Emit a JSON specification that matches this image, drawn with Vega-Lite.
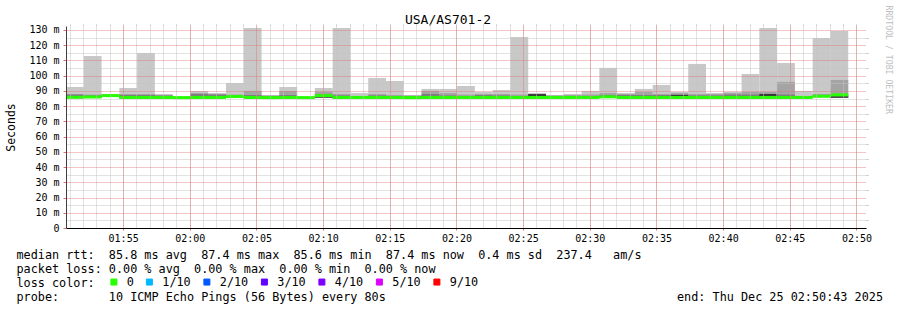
{
  "$schema": "https://vega.github.io/schema/vega-lite/v6.json",
  "width": 800,
  "height": 202,
  "autosize": {"type": "none"},
  "padding": {"left": 66, "top": 26, "right": 31, "bottom": 82},
  "background": "white",
  "title": {"text": "USA/AS701-2", "font": "DejaVu Sans Mono", "fontSize": 13, "fontWeight": "normal", "color": "#000", "offset": -22, "anchor": "middle", "dx": -18},
  "config": {
    "view": {"stroke": null}
  },
  "data": {"values": [
    {"t":"2025-12-25T01:50:43Z","t2":"2025-12-25T01:52:03Z","lo":85.2,"hi":92.6,"p9":88.0,"p8":87.6,"med":85.8,"loss":"0"},
    {"t":"2025-12-25T01:52:03Z","t2":"2025-12-25T01:53:23Z","lo":85.4,"hi":112.9,"p9":87.6,"p8":87.0,"med":86.0,"loss":"0"},
    {"t":"2025-12-25T01:53:23Z","t2":"2025-12-25T01:54:43Z","lo":86.2,"hi":88.0,"p9":87.8,"med":86.9,"loss":"0"},
    {"t":"2025-12-25T01:54:43Z","t2":"2025-12-25T01:56:03Z","lo":85.1,"hi":91.9,"p9":88.0,"p8":87.3,"med":85.7,"loss":"0"},
    {"t":"2025-12-25T01:56:03Z","t2":"2025-12-25T01:57:23Z","lo":85.1,"hi":114.9,"p9":88.0,"p8":87.3,"med":85.7,"loss":"0"},
    {"t":"2025-12-25T01:57:23Z","t2":"2025-12-25T01:58:43Z","lo":85.1,"hi":88.0,"p9":87.3,"p8":86.9,"med":85.7,"loss":"0"},
    {"t":"2025-12-25T01:58:43Z","t2":"2025-12-25T02:00:03Z","med":85.6,"loss":"0"},
    {"t":"2025-12-25T02:00:03Z","t2":"2025-12-25T02:01:23Z","lo":85.1,"hi":90.0,"p9":88.6,"p8":88.0,"med":85.7,"loss":"0"},
    {"t":"2025-12-25T02:01:23Z","t2":"2025-12-25T02:02:43Z","lo":85.1,"hi":88.6,"p9":88.0,"p8":87.6,"med":85.7,"loss":"0"},
    {"t":"2025-12-25T02:02:43Z","t2":"2025-12-25T02:04:03Z","lo":85.7,"hi":95.2,"p9":87.6,"p8":87.2,"med":86.3,"loss":"0"},
    {"t":"2025-12-25T02:04:03Z","t2":"2025-12-25T02:05:23Z","lo":85.1,"hi":131.3,"p9":90.0,"p8":87.3,"med":85.7,"loss":"0"},
    {"t":"2025-12-25T02:05:23Z","t2":"2025-12-25T02:06:43Z","lo":85.0,"hi":87.3,"p9":87.0,"p8":86.7,"med":85.6,"loss":"0"},
    {"t":"2025-12-25T02:06:43Z","t2":"2025-12-25T02:08:03Z","lo":85.1,"hi":92.6,"p9":90.0,"p8":87.3,"med":85.7,"loss":"0"},
    {"t":"2025-12-25T02:08:03Z","t2":"2025-12-25T02:09:23Z","med":85.6,"loss":"0"},
    {"t":"2025-12-25T02:09:23Z","t2":"2025-12-25T02:10:43Z","lo":85.6,"hi":91.9,"p9":89.5,"p8":88.0,"blo":85.6,"bhi":86.3,"med":86.9,"loss":"0"},
    {"t":"2025-12-25T02:10:43Z","t2":"2025-12-25T02:12:03Z","lo":85.1,"hi":131.3,"p9":88.0,"p8":87.0,"med":85.7,"loss":"0"},
    {"t":"2025-12-25T02:12:03Z","t2":"2025-12-25T02:13:23Z","lo":85.1,"hi":88.6,"med":85.7,"loss":"0"},
    {"t":"2025-12-25T02:13:23Z","t2":"2025-12-25T02:14:43Z","lo":85.1,"hi":98.5,"p9":88.0,"p8":87.0,"med":85.7,"loss":"0"},
    {"t":"2025-12-25T02:14:43Z","t2":"2025-12-25T02:16:03Z","lo":85.1,"hi":96.5,"p9":87.3,"med":85.7,"loss":"0"},
    {"t":"2025-12-25T02:16:03Z","t2":"2025-12-25T02:17:23Z","lo":85.0,"hi":87.3,"p9":86.9,"p8":86.7,"med":85.6,"loss":"0"},
    {"t":"2025-12-25T02:17:23Z","t2":"2025-12-25T02:18:43Z","lo":85.1,"hi":91.3,"p9":90.0,"p8":88.0,"med":85.7,"loss":"0"},
    {"t":"2025-12-25T02:18:43Z","t2":"2025-12-25T02:20:03Z","lo":85.1,"hi":91.3,"p9":88.6,"p8":87.0,"med":85.7,"loss":"0"},
    {"t":"2025-12-25T02:20:03Z","t2":"2025-12-25T02:21:23Z","lo":85.1,"hi":93.2,"p9":87.6,"med":85.7,"loss":"0"},
    {"t":"2025-12-25T02:21:23Z","t2":"2025-12-25T02:22:43Z","lo":85.1,"hi":89.3,"p9":88.0,"p8":87.3,"med":85.7,"loss":"0"},
    {"t":"2025-12-25T02:22:43Z","t2":"2025-12-25T02:24:03Z","lo":85.1,"hi":90.6,"p9":88.0,"p8":87.0,"med":85.7,"loss":"0"},
    {"t":"2025-12-25T02:24:03Z","t2":"2025-12-25T02:25:23Z","lo":85.1,"hi":125.4,"p9":87.6,"med":85.7,"loss":"0"},
    {"t":"2025-12-25T02:25:23Z","t2":"2025-12-25T02:26:43Z","lo":85.1,"hi":88.6,"p9":88.0,"p8":87.6,"blo":86.3,"bhi":87.9,"med":85.7,"loss":"0"},
    {"t":"2025-12-25T02:26:43Z","t2":"2025-12-25T02:28:03Z","lo":85.1,"hi":87.3,"p9":87.0,"med":85.7,"loss":"0"},
    {"t":"2025-12-25T02:28:03Z","t2":"2025-12-25T02:29:23Z","lo":85.1,"hi":88.0,"p9":87.3,"med":85.7,"loss":"0"},
    {"t":"2025-12-25T02:29:23Z","t2":"2025-12-25T02:30:43Z","lo":85.1,"hi":90.0,"p9":87.6,"med":85.7,"loss":"0"},
    {"t":"2025-12-25T02:30:43Z","t2":"2025-12-25T02:32:03Z","lo":85.5,"hi":105.1,"p9":88.6,"p8":87.3,"med":86.1,"loss":"0"},
    {"t":"2025-12-25T02:32:03Z","t2":"2025-12-25T02:33:23Z","lo":85.1,"hi":88.6,"p9":88.0,"p8":87.3,"med":85.7,"loss":"0"},
    {"t":"2025-12-25T02:33:23Z","t2":"2025-12-25T02:34:43Z","lo":85.1,"hi":91.3,"p9":89.3,"p8":87.3,"med":85.7,"loss":"0"},
    {"t":"2025-12-25T02:34:43Z","t2":"2025-12-25T02:36:03Z","lo":85.1,"hi":93.9,"p9":88.0,"p8":87.3,"med":85.7,"loss":"0"},
    {"t":"2025-12-25T02:36:03Z","t2":"2025-12-25T02:37:23Z","lo":85.1,"hi":89.3,"p9":88.6,"p8":87.6,"blo":86.5,"bhi":87.3,"med":85.7,"loss":"0"},
    {"t":"2025-12-25T02:37:23Z","t2":"2025-12-25T02:38:43Z","lo":85.1,"hi":107.7,"p9":88.0,"p8":87.0,"med":85.7,"loss":"0"},
    {"t":"2025-12-25T02:38:43Z","t2":"2025-12-25T02:40:03Z","lo":85.1,"hi":88.6,"p9":88.0,"p8":87.0,"med":85.7,"loss":"0"},
    {"t":"2025-12-25T02:40:03Z","t2":"2025-12-25T02:41:23Z","lo":85.1,"hi":89.3,"p9":88.6,"p8":87.6,"med":85.7,"loss":"0"},
    {"t":"2025-12-25T02:41:23Z","t2":"2025-12-25T02:42:43Z","lo":85.1,"hi":101.1,"p9":89.3,"p8":87.6,"med":85.7,"loss":"0"},
    {"t":"2025-12-25T02:42:43Z","t2":"2025-12-25T02:44:03Z","lo":85.1,"hi":131.3,"p9":89.3,"p8":88.0,"blo":86.5,"bhi":88.0,"med":85.7,"loss":"0"},
    {"t":"2025-12-25T02:44:03Z","t2":"2025-12-25T02:45:23Z","lo":85.1,"hi":108.3,"p9":95.9,"p8":87.6,"med":85.7,"loss":"0"},
    {"t":"2025-12-25T02:45:23Z","t2":"2025-12-25T02:46:43Z","lo":85.1,"hi":90.0,"med":85.7,"loss":"0"},
    {"t":"2025-12-25T02:46:43Z","t2":"2025-12-25T02:48:03Z","lo":85.9,"hi":124.8,"p9":88.0,"p8":87.0,"med":86.5,"loss":"0"},
    {"t":"2025-12-25T02:48:03Z","t2":"2025-12-25T02:49:23Z","lo":85.5,"hi":129.3,"p9":97.2,"p8":88.0,"blo":85.5,"bhi":86.4,"med":87.4,"loss":"0"}
  ]},
  "encoding": {
    "x": {
      "field": "t", "type": "temporal",
      "scale": {"type": "utc", "domain": [
        {"year": 2025, "month": 12, "date": 25, "hours": 1, "minutes": 50, "seconds": 43, "utc": true},
        {"year": 2025, "month": 12, "date": 25, "hours": 2, "minutes": 50, "seconds": 43, "utc": true}
      ]},
      "axis": null
    },
    "x2": {"field": "t2"}
  },
  "layer": [
    {
      "transform": [{"filter": "datum.hi != null"}],
      "mark": {"type": "rect", "color": "#c8c8c8"},
      "encoding": {
        "x": {
          "field": "t", "type": "temporal",
          "scale": {"type": "utc", "domain": [
            {"year": 2025, "month": 12, "date": 25, "hours": 1, "minutes": 50, "seconds": 43, "utc": true},
            {"year": 2025, "month": 12, "date": 25, "hours": 2, "minutes": 50, "seconds": 43, "utc": true}
          ]},
          "axis": {
            "zindex": 3,
            "tickCount": 12,
            "format": "%H:%M",
            "grid": true,
            "labelFont": "DejaVu Sans Mono", "labelFontSize": 10, "labelColor": "#000",
            "labelOverlap": false, "labelFlush": false, "labelPadding": 3, "labelAngle": 0,
            "gridColor": "#e07070", "gridOpacity": 0.8, "gridDash": [1, 1],
            "tickColor": "#e07070", "tickSize": 2,
            "domainColor": "#000",
            "title": [
              "median\u00a0rtt:\u00a0\u00a085.8\u00a0ms\u00a0avg\u00a0\u00a087.4\u00a0ms\u00a0max\u00a0\u00a085.6\u00a0ms\u00a0min\u00a0\u00a087.4\u00a0ms\u00a0now\u00a0\u00a00.4\u00a0ms\u00a0sd\u00a0\u00a0237.4\u00a0\u00a0\u00a0am/s",
              "packet\u00a0loss:\u00a00.00\u00a0%\u00a0avg\u00a0\u00a00.00\u00a0%\u00a0max\u00a0\u00a00.00\u00a0%\u00a0min\u00a0\u00a00.00\u00a0%\u00a0now",
              "loss\u00a0color:",
              "probe:\u00a0\u00a0\u00a0\u00a0\u00a0\u00a0\u00a010\u00a0ICMP\u00a0Echo\u00a0Pings\u00a0(56\u00a0Bytes)\u00a0every\u00a080s\u00a0\u00a0\u00a0\u00a0\u00a0\u00a0\u00a0\u00a0\u00a0\u00a0\u00a0\u00a0\u00a0\u00a0\u00a0\u00a0\u00a0\u00a0\u00a0\u00a0\u00a0\u00a0\u00a0\u00a0\u00a0\u00a0\u00a0\u00a0\u00a0\u00a0\u00a0\u00a0\u00a0\u00a0\u00a0\u00a0\u00a0\u00a0\u00a0\u00a0\u00a0end:\u00a0Thu\u00a0Dec\u00a025\u00a002:50:43\u00a02025"
            ],
            "titleFont": "DejaVu Sans Mono", "titleFontSize": 11.8, "titleFontWeight": "normal", "titleColor": "#000",
            "titleX": -50, "titleY": 30, "titleAlign": "left", "titleBaseline": "alphabetic", "titleLineHeight": 14, "titleAngle": 0
          }
        },
        "y": {
          "field": "lo", "type": "quantitative",
          "scale": {"domain": [0, 132.6], "nice": false, "zero": true},
          "axis": {
            "zindex": 3,
            "values": [0,10,20,30,40,50,60,70,80,90,100,110,120,130],
            "grid": true,
            "labelExpr": "datum.value === 0 ? '0' : datum.value + ' m'",
            "labelFont": "DejaVu Sans Mono", "labelFontSize": 10, "labelColor": "#000", "labelPadding": 4, "labelOverlap": false,
            "gridColor": "#e07070", "gridOpacity": 0.8, "gridDash": [1, 1],
            "tickColor": "#e07070", "tickSize": 3,
            "domainColor": "#404040",
            "title": "Seconds", "titleFont": "DejaVu Sans Mono", "titleFontSize": 11.5, "titleFontWeight": "normal", "titleColor": "#000",
            "titleX": -55, "titleY": 101, "titleAngle": -90, "titleAlign": "center", "titleBaseline": "middle"
          }
        },
        "y2": {"field": "hi"}
      }
    },
    {
      "transform": [{"filter": "datum.p9 != null"}],
      "mark": {"type": "rect", "color": "#a4a4a4"},
      "encoding": {
        "y": {
          "field": "lo", "type": "quantitative",
          "axis": {
            "zindex": 2,
            "values": [5,15,25,35,45,55,65,75,85,95,105,115,125],
            "grid": true, "labels": false, "domain": false, "title": null, "offset": 0,
            "gridColor": "#c4c4c4", "gridOpacity": 1, "gridDash": [1, 1],
            "tickColor": "#c4c4c4", "tickSize": 2
          }
        },
        "y2": {"field": "p9"}
      }
    },
    {
      "transform": [{"filter": "datum.p8 != null"}],
      "mark": {"type": "rect", "color": "#7e7e7e"},
      "encoding": {
        "y": {"field": "lo", "type": "quantitative", "axis": null},
        "y2": {"field": "p8"}
      }
    },
    {
      "transform": [{"filter": "datum.bhi != null"}],
      "mark": {"type": "rect", "color": "#383838"},
      "encoding": {
        "y": {"field": "blo", "type": "quantitative", "axis": null},
        "y2": {"field": "bhi"}
      }
    },
    {
      "mark": {"type": "rule", "strokeWidth": 3},
      "encoding": {
        "x": {
          "field": "t", "type": "temporal",
          "scale": {"type": "utc", "domain": [
            {"year": 2025, "month": 12, "date": 25, "hours": 1, "minutes": 50, "seconds": 43, "utc": true},
            {"year": 2025, "month": 12, "date": 25, "hours": 2, "minutes": 50, "seconds": 43, "utc": true}
          ]},
          "axis": {
            "zindex": 2,
            "tickCount": 60,
            "grid": true, "labels": false, "domain": false, "title": null, "offset": 0,
            "gridColor": "#c4c4c4", "gridOpacity": 1, "gridDash": [1, 1],
            "tickColor": "#c4c4c4", "tickSize": 2
          }
        },
        "y": {
          "field": "med", "type": "quantitative",
          "axis": {
            "orient": "right", "labels": false, "ticks": false, "domain": false, "grid": false, "zindex": 0,
            "title": "RRDTOOL / TOBI OETIKER", "titleAngle": 90, "titleFont": "DejaVu Sans Mono", "titleFontSize": 8.2,
            "titleFontWeight": "normal", "titleColor": "#c0c0c0", "titleX": 21, "titleY": -21, "titleAlign": "left", "titleBaseline": "middle"
          }
        },
        "color": {
          "field": "loss", "type": "nominal",
          "scale": {"domain": ["0", "1/10", "2/10", "3/10", "4/10", "5/10", "9/10"], "range": ["#26ff00", "#00b8ff", "#0059ff", "#5e00ff", "#7e00ff", "#dd00ff", "#ff0000"]},
          "legend": {
            "orient": "none", "legendX": 42, "legendY": 250, "direction": "horizontal", "columns": 7,
            "title": null,
            "labelFont": "DejaVu Sans Mono", "labelFontSize": 11.8, "labelColor": "#000", "labelOffset": 7,
            "symbolType": "square", "symbolSize": 36, "symbolStrokeColor": "#000", "symbolStrokeWidth": 1, "symbolOpacity": 1,
            "columnPadding": 9.5, "padding": 0,
            "encode": {"symbols": {"update": {"fill": {"scale": "color", "field": "value"}, "stroke": {"value": "#000"}, "strokeWidth": {"value": 1}, "fillOpacity": {"value": 1}}}}
          }
        }
      }
    }
  ],
  "resolve": {"axis": {"x": "independent", "y": "independent"}}
}
